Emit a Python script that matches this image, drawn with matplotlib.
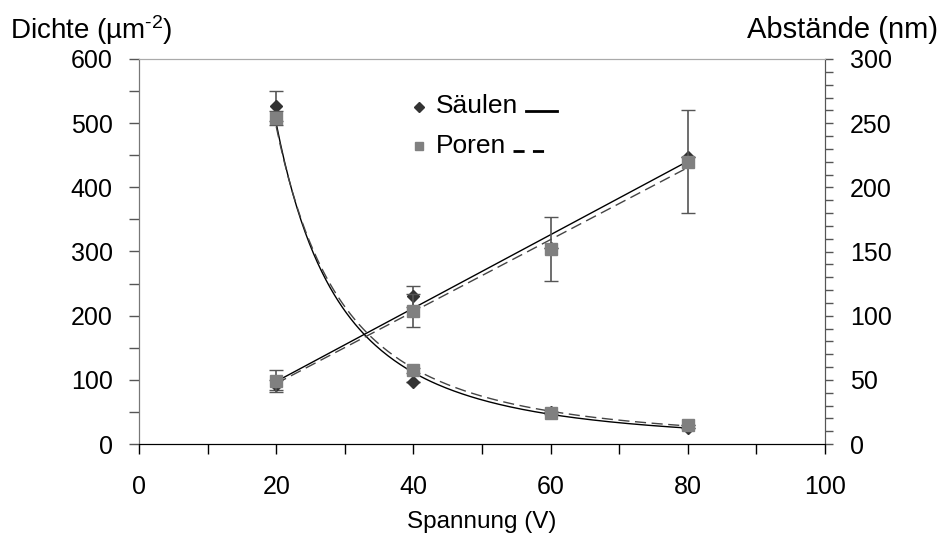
import numpy as np
import matplotlib
matplotlib.use("Agg")
import matplotlib.pyplot as plt

plt.rcParams['font.family'] = ['Liberation Sans', 'DejaVu Sans']
plt.rcParams['mathtext.fontset'] = 'custom'
plt.rcParams['mathtext.rm'] = 'Liberation Sans'
plt.rcParams['mathtext.it'] = 'Liberation Sans'

# voltage (V)
spannung = [20, 40, 60, 80]

# density (um^-2), left axis
dichte_saeulen = [527, 97, 50, 25]
dichte_saeulen_err = [23, 0, 0, 0]
dichte_poren = [508, 115, 48, 30]
dichte_poren_err = [11, 4, 2, 0]

# distances (nm), right axis
abst_saeulen = [46, 115, 153, 224]
abst_saeulen_err = [4, 8, 0, 0]
abst_poren = [49, 104, 152, 220]
abst_poren_err = [8.5, 13, 25, 40]

x = np.array(spannung, dtype=float)
xf = np.linspace(20, 80, 200)

fig = plt.figure(figsize=(9.41, 5.53), dpi=100)
ax = fig.add_axes([139/941, 1-444/553, (825-139)/941, (444-59)/553])
ax2 = ax.twinx()

dark = '#333333'
grey = '#808080'
ecol = '#555555'
fs_tick = 18

# power law trendlines for density
for vals, ls, col in [(dichte_saeulen, '-', 'black'), (dichte_poren, (0, (8, 4)), '#444444')]:
    b, a = np.polyfit(np.log(x), np.log(vals), 1)
    ax.plot(xf, np.exp(a) * xf**b, ls=ls, color=col, lw=1)

# linear trendlines for distances
for vals, ls, col in [(abst_saeulen, '-', 'black'), (abst_poren, (0, (8, 4)), '#444444')]:
    m, c = np.polyfit(x, vals, 1)
    ax2.plot(xf, m * xf + c, ls=ls, color=col, lw=1)

ax.errorbar(x, dichte_saeulen, yerr=dichte_saeulen_err, fmt='D', ms=6.5, color=dark,
            ecolor=ecol, elinewidth=1.2, capsize=5, zorder=4)
ax.errorbar(x, dichte_poren, yerr=dichte_poren_err, fmt='s', ms=8, color=grey,
            ecolor=ecol, elinewidth=1.2, capsize=5, zorder=5)
ax2.errorbar(x, abst_saeulen, yerr=abst_saeulen_err, fmt='D', ms=6.5, color=dark,
             ecolor=ecol, elinewidth=1.2, capsize=5, zorder=4)
ax2.errorbar(x, abst_poren, yerr=abst_poren_err, fmt='s', ms=8, color=grey,
             ecolor=ecol, elinewidth=1.2, capsize=5, zorder=5)

ax.set_xlim(0, 100)
ax.set_ylim(0, 600)
ax2.set_ylim(0, 300)
ax.set_xticks(np.arange(0, 101, 20))
ax.set_xticks(np.arange(0, 101, 10), minor=True)
ax.set_yticks(np.arange(0, 601, 100))
ax.set_yticks(np.arange(0, 601, 50), minor=True)
ax2.set_yticks(np.arange(0, 301, 50))
ax2.set_yticks(np.arange(0, 301, 10), minor=True)

ax.tick_params(axis='x', which='both', direction='out', length=7, width=1,
               labelsize=fs_tick, pad=15)
ax.tick_params(axis='y', which='both', direction='out', length=7, width=1,
               color='#555555', labelsize=fs_tick, pad=12)
ax2.tick_params(axis='y', which='both', direction='out', length=6, width=1,
                color='#555555', labelsize=fs_tick, pad=12)

for a_ in (ax, ax2):
    a_.spines['top'].set_color('#aaaaaa')
    a_.spines['left'].set_color('#777777')
    a_.spines['right'].set_color('#555555')
    a_.spines['bottom'].set_color('black')

fig.text(10/941, 1-30/553, r'Dichte (µm$^{\text{-2}}$)', fontsize=20, va='center', ha='left')
fig.text(938/941, 1-30/553, 'Abstände (nm)', fontsize=21, va='center', ha='right')
fig.text(482/941, 1-522/553, 'Spannung (V)', fontsize=17.5, va='center', ha='center')

# legend: marker, label, then line sample
t = ax.transAxes
def ax_xy(px, py):
    return ((px - 139) / 686, (444 - py) / 385)

mx, my = ax_xy(419, 107)
ax.plot([mx], [my], 'D', ms=5, color=dark, transform=t, clip_on=False)
tx, ty = ax_xy(436, 106)
ax.text(tx, ty, 'Säulen', fontsize=19, va='center', ha='left', transform=t)
l0, ly = ax_xy(526, 111)
l1, _ = ax_xy(557, 111)
ax.plot([l0, l1], [ly, ly], '-', color='black', lw=2, transform=t)

mx, my = ax_xy(419, 146)
ax.plot([mx], [my], 's', ms=6, color=grey, transform=t, clip_on=False)
tx, ty = ax_xy(436, 146)
ax.text(tx, ty, 'Poren', fontsize=19, va='center', ha='left', transform=t)
l0, ly = ax_xy(513, 151)
l1, _ = ax_xy(544, 151)
ax.plot([l0, l1], [ly, ly], ls=(0, (4, 3)), color='black', lw=2, transform=t)

fig.savefig('out.png', dpi=100)
